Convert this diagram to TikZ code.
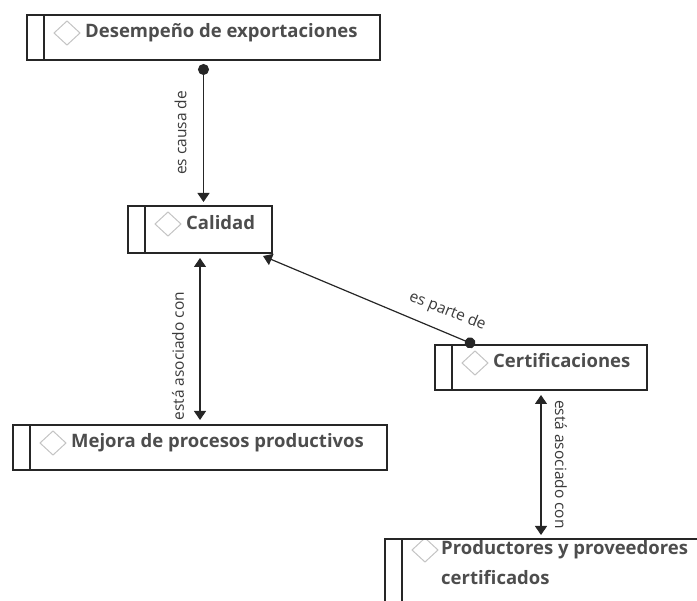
\documentclass[tikz,border=0pt]{standalone}
\usepackage{fontspec}
\setmainfont{Open Sans}
\usepackage{xcolor}
\usetikzlibrary{arrows.meta,positioning,calc}
\definecolor{cmline}{HTML}{262626}
\definecolor{cmtext}{HTML}{4D4D4D}
\definecolor{cmlink}{HTML}{3A3A3A}
\definecolor{cmdiam}{HTML}{C4C4C4}
\tikzset{
  concept/.style={rectangle, draw=cmline, line width=1.3pt, anchor=north west,
                  inner sep=0pt, outer sep=0pt,
                  path picture={
                    \draw[cmline, line width=1.3pt]
                      ([xshift=17pt]path picture bounding box.north west) --
                      ([xshift=17pt]path picture bounding box.south west);
                    \draw[cmdiam, line width=1pt]
                      ([shift={(27,#1)}]path picture bounding box.north west) --
                      ++(13,-12) -- ++(13,12) -- ++(-13,12) -- cycle;
                  }},
  concept/.default=18,
  ctext/.style={anchor=base west, inner sep=0pt, text=cmtext, align=left,
                font=\fontsize{18.5}{30}\selectfont\bfseries},
  rel/.style={draw=cmline, line width=1.2pt},
  dbl/.style={{Triangle[length=9pt,width=12pt]}-{Triangle[length=9pt,width=12pt]}},
  dot/.style={{Circle[length=11pt]}-{Triangle[length=9pt,width=12pt]}},
  lbl/.style={text=cmlink, inner sep=0pt, font=\fontsize{15.5}{18}\selectfont},
}

\begin{document}
\begin{tikzpicture}[x=1pt,y=-1pt]
\useasboundingbox (0,0) rectangle (697,601);
\clip (0,0) rectangle (697,601);

% ---------- concepts ----------
\node[concept, minimum width=353pt, minimum height=45pt] (dse) at (27,15) {};
\node[ctext] (dseT) at ([shift={(58,23)}]dse.north west) {Desempeño de exportaciones};

\node[concept, minimum width=144pt, minimum height=47pt] (cal) at (128,206) {};
\node[ctext] (calT) at ([shift={(58,24)}]cal.north west) {Calidad};

\node[concept, minimum width=212pt, minimum height=45pt] (cer) at (435,345) {};
\node[ctext] (cerT) at ([shift={(58,23)}]cer.north west) {Certificaciones};

\node[concept, minimum width=374pt, minimum height=45pt] (mej) at (13,425) {};
\node[ctext] (mejT) at ([shift={(58,23)}]mej.north west) {Mejora de procesos productivos};

\node[concept=11, minimum width=330pt, minimum height=80pt] (pro) at (385,539) {};
% base of a two-line node is the last line
\node[ctext] (proT) at ([shift={(56,46)}]pro.north west)
   {Productores y proveedores\\certificados};

% ---------- links ----------
\draw[rel,dot,shorten <=4pt,shorten >=4pt] (dse.south) -- (dse.south |- cal.north)
   node[lbl,midway,xshift=-23pt,rotate=90] {es causa de};
\draw[rel,dbl,shorten <=5pt,shorten >=5pt] (cal.south) -- (cal.south |- mej.north)
   node[lbl,pos=0.6,xshift=-22pt,rotate=90] {está asociado con};
\draw[rel,dot] ([xshift=40pt]cer.north west) -- ([shift={(-9,3)}]cal.south east)
   node[lbl,pos=0.13,yshift=22pt,rotate=-21.8] {es parte de};
\draw[rel,dbl,shorten <=5pt,shorten >=4pt] (cer.south) -- (cer.south |- pro.north)
   node[lbl,midway,xshift=20pt,rotate=-90] {está asociado con};
\end{tikzpicture}
\end{document}
